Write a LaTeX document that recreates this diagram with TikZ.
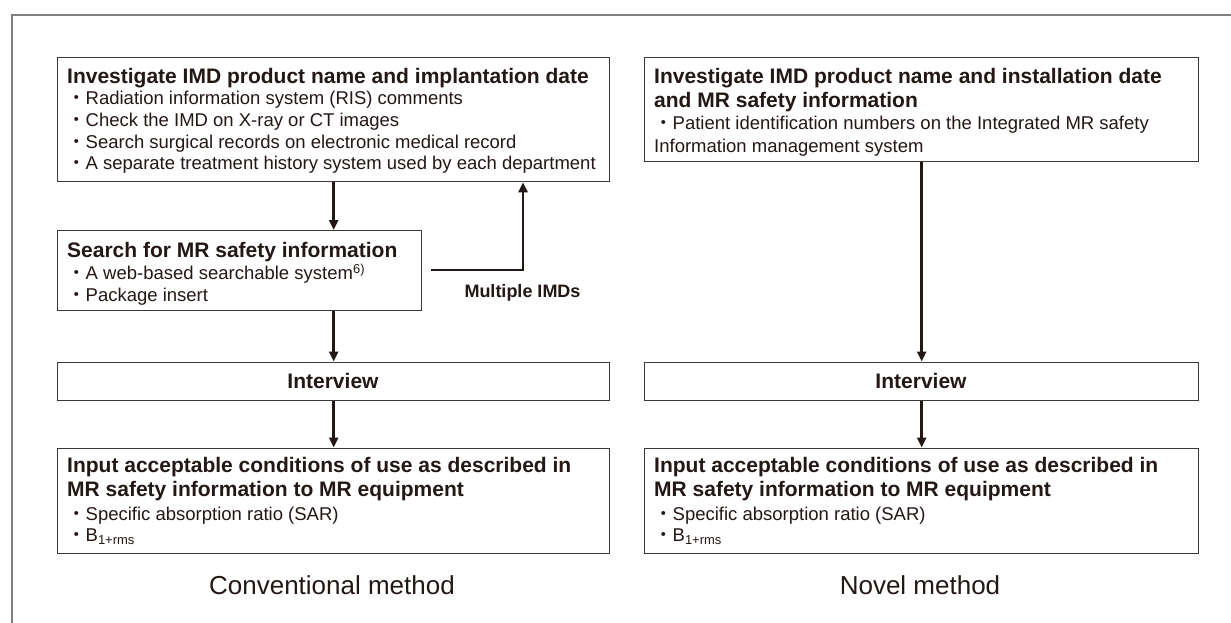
\documentclass[tikz,border=0pt]{standalone}
\usepackage{fontspec}
\setmainfont{Liberation Sans}
\newfontfamily\cjkfont{Noto Sans CJK JP}
\usetikzlibrary{arrows.meta}

\definecolor{ink}{RGB}{35,24,21}
\definecolor{framegray}{RGB}{128,128,128}
\definecolor{boxline}{RGB}{60,56,56}

% full-width bullet used in the item lists
\newcommand\bul{{\cjkfont ・}}

\tikzset{
  box/.style={draw=boxline, line width=1.3pt, rectangle, inner sep=0pt, anchor=north west},
  ttl/.style={font=\fontsize{21}{24}\selectfont\bfseries, text=ink, anchor=base west, inner sep=0pt},
  itm/.style={font=\fontsize{18.5}{22}\selectfont, text=ink, anchor=base west, inner sep=0pt},
  tag/.style={font=\fontsize{18}{22}\selectfont\bfseries, text=ink, anchor=base, inner sep=0pt},
  flow/.style={draw=ink, line width=2.6pt, -{Triangle[length=10pt,width=9pt]}},
  caption/.style={font=\fontsize{26}{30}\selectfont, text=ink, anchor=base, inner sep=0pt},
}

\begin{document}
\begin{tikzpicture}[x=1pt, y=-1pt]
\useasboundingbox (0,0) rectangle (1231,623);
\fill[white] (0,0) rectangle (1231,623);

% outer frame (top and left edges)
\draw[framegray, line width=2pt] (12,623) -- (12,15) -- (1231,15);

% ---------------- conventional method ----------------
\node[box, minimum width=552pt, minimum height=124pt] (c1) at (57,57) {};
\node[ttl] (c1t) at (67,83.5) {Investigate IMD product name and implantation date};
\node[itm] (c1a) at (67,104.5) {\bul Radiation information system (RIS) comments};
\node[itm] (c1b) at (67,126.5) {\bul Check the IMD on X-ray or CT images};
\node[itm] (c1c) at (67,148.5) {\bul Search surgical records on electronic medical record};
\node[itm] (c1d) at (67,169.5) {\bul A separate treatment history system used by each department};

\node[box, minimum width=364pt, minimum height=80pt] (s1) at (57,230) {};
\node[ttl] (s1t) at (67,257) {Search for MR safety information};
\node[itm] (s1a) at (67,279.5) {\bul A web-based searchable system\textsuperscript{6)}};
\node[itm] (s1b) at (67,301.5) {\bul Package insert};

\node[box, minimum width=552pt, minimum height=38.5pt] (iv1) at (57,361.5) {};
\node[ttl, anchor=base] (iv1t) at (333,388.5) {Interview};

\node[box, minimum width=552pt, minimum height=105pt] (in1) at (57,447.5) {};
\node[ttl] (in1t) at (67,472) {Input acceptable conditions of use as described in};
\node[ttl] (in1u) at (67,496) {MR safety information to MR equipment};
\node[itm] (in1a) at (67,520) {\bul Specific absorption ratio (SAR)};
\node[itm] (in1b) at (67,541.5) {\bul B\textsubscript{1+rms}};

\node[caption] (cap1) at (332,594) {Conventional method};

\draw[flow] (c1.south) -- (c1.south |- s1.north);
\draw[flow] (c1.south |- s1.south) -- (iv1.north);
\draw[flow] (iv1.south) -- (in1.north);

\coordinate (turn) at (523,270);
\draw[flow] ([xshift=9pt]s1.east |- turn) -- (turn) -- (turn |- c1.south);
\node[tag] (multi) at (522.5,297.5) {Multiple IMDs};

% ---------------- novel method ----------------
\node[box, minimum width=554pt, minimum height=104pt] (r1) at (644,57) {};
\node[ttl] (r1t) at (654,83.5) {Investigate IMD product name and installation date};
\node[ttl] (r1u) at (654,107.5) {and MR safety information};
\node[itm] (r1a) at (654,129.5) {\bul Patient identification numbers on the Integrated MR safety};
\node[itm] (r1b) at (654,152.5) {Information management system};

\node[box, minimum width=554pt, minimum height=38.5pt] (iv2) at (644,361.5) {};
\node[ttl, anchor=base] (iv2t) at (921,388.5) {Interview};

\node[box, minimum width=554pt, minimum height=105pt] (in2) at (644,447.5) {};
\node[ttl] (in2t) at (654,472) {Input acceptable conditions of use as described in};
\node[ttl] (in2u) at (654,496) {MR safety information to MR equipment};
\node[itm] (in2a) at (654,520) {\bul Specific absorption ratio (SAR)};
\node[itm] (in2b) at (654,541.5) {\bul B\textsubscript{1+rms}};

\node[caption] (cap2) at (920,594) {Novel method};

\draw[flow] (r1.south) -- (iv2.north);
\draw[flow] (iv2.south) -- (in2.north);
\end{tikzpicture}
\end{document}
